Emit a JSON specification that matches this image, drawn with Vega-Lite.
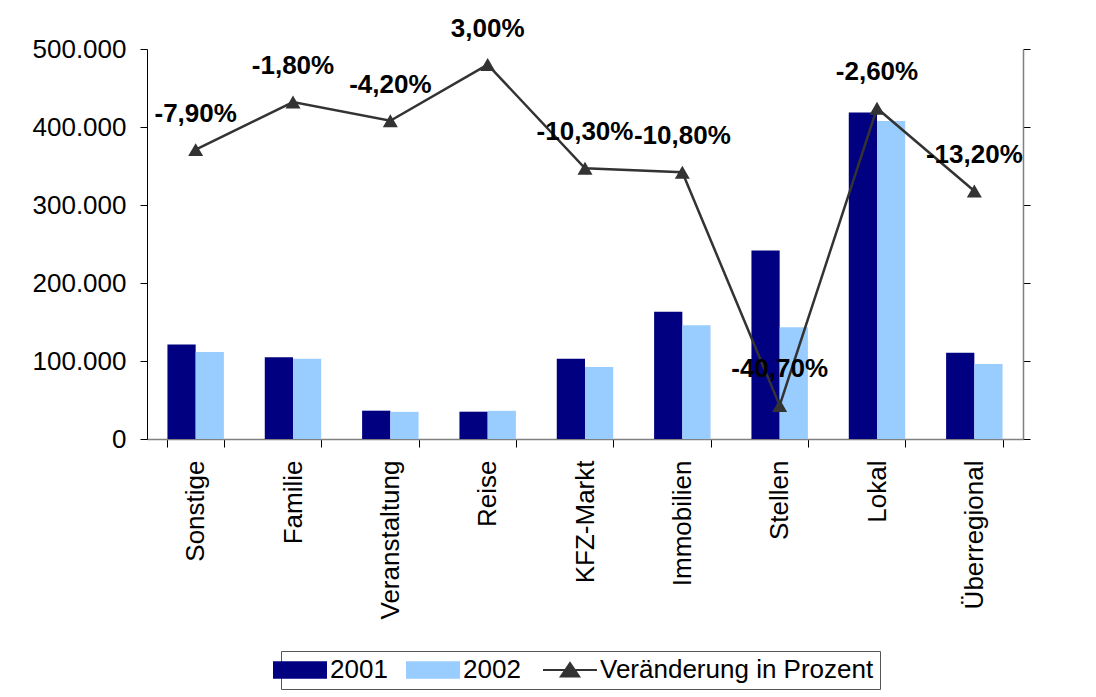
{
  "$schema": "https://vega.github.io/schema/vega-lite/v6.json",
  "autosize": {"type": "none"},
  "padding": {"left": 147, "top": 49, "right": 73, "bottom": 258},
  "width": 876,
  "height": 390,
  "background": "white",
  "config": {
    "font": "Liberation Sans",
    "view": {"stroke": null},
    "locale": {"number": {"decimal": ",", "thousands": ".", "grouping": [3], "currency": ["", " €"], "minus": "-"}}
  },
  "datasets": {
    "bars": [
      {"Kategorie": "Sonstige", "Jahr": "2001", "Wert": 121000},
      {"Kategorie": "Sonstige", "Jahr": "2002", "Wert": 111500},
      {"Kategorie": "Familie", "Jahr": "2001", "Wert": 104700},
      {"Kategorie": "Familie", "Jahr": "2002", "Wert": 102800},
      {"Kategorie": "Veranstaltung", "Jahr": "2001", "Wert": 36300},
      {"Kategorie": "Veranstaltung", "Jahr": "2002", "Wert": 34800},
      {"Kategorie": "Reise", "Jahr": "2001", "Wert": 35000},
      {"Kategorie": "Reise", "Jahr": "2002", "Wert": 36100},
      {"Kategorie": "KFZ-Markt", "Jahr": "2001", "Wert": 103000},
      {"Kategorie": "KFZ-Markt", "Jahr": "2002", "Wert": 92400},
      {"Kategorie": "Immobilien", "Jahr": "2001", "Wert": 163300},
      {"Kategorie": "Immobilien", "Jahr": "2002", "Wert": 145700},
      {"Kategorie": "Stellen", "Jahr": "2001", "Wert": 241600},
      {"Kategorie": "Stellen", "Jahr": "2002", "Wert": 143300},
      {"Kategorie": "Lokal", "Jahr": "2001", "Wert": 418700},
      {"Kategorie": "Lokal", "Jahr": "2002", "Wert": 407800},
      {"Kategorie": "Überregional", "Jahr": "2001", "Wert": 110700},
      {"Kategorie": "Überregional", "Jahr": "2002", "Wert": 96100}
    ],
    "change": [
      {"Kategorie": "Sonstige", "Veraenderung": -0.079},
      {"Kategorie": "Familie", "Veraenderung": -0.018},
      {"Kategorie": "Veranstaltung", "Veraenderung": -0.042},
      {"Kategorie": "Reise", "Veraenderung": 0.03},
      {"Kategorie": "KFZ-Markt", "Veraenderung": -0.103},
      {"Kategorie": "Immobilien", "Veraenderung": -0.108},
      {"Kategorie": "Stellen", "Veraenderung": -0.407},
      {"Kategorie": "Lokal", "Veraenderung": -0.026},
      {"Kategorie": "Überregional", "Veraenderung": -0.132}
    ]
  },
  "layer": [
    {
      "data": {"name": "bars"},
      "mark": {"type": "bar"},
      "encoding": {
        "x": {
          "field": "Kategorie",
          "type": "nominal",
          "scale": {
            "domain": ["Sonstige", "Familie", "Veranstaltung", "Reise", "KFZ-Markt", "Immobilien", "Stellen", "Lokal", "Überregional"],
            "paddingInner": 0.42,
            "paddingOuter": 0.21
          },
          "axis": {
            "title": null,
            "labelAngle": 270,
            "labelAlign": "right",
            "labelBaseline": "middle",
            "labelFontSize": 26,
            "labelColor": "#000000",
            "labelPadding": 13,
            "tickBand": "extent",
            "tickSize": 8,
            "tickColor": "#000000",
            "domainColor": "#808080",
            "domainWidth": 1.5
          }
        },
        "xOffset": {"field": "Jahr", "type": "nominal", "scale": {"paddingInner": 0, "paddingOuter": 0}},
        "y": {
          "field": "Wert",
          "type": "quantitative",
          "scale": {"domain": [0, 500000], "nice": false},
          "axis": {
            "title": null,
            "values": [0, 100000, 200000, 300000, 400000, 500000],
            "format": ",.0f",
            "labelFontSize": 26,
            "labelColor": "#000000",
            "labelPadding": 14,
            "tickSize": 7,
            "tickColor": "#000000",
            "domainColor": "#000000",
            "grid": false
          }
        },
        "color": {
          "field": "Jahr",
          "type": "nominal",
          "scale": {"domain": ["2001", "2002", "Veränderung in Prozent"], "range": ["#000080", "#99CCFF", "#333333"]},
          "legend": {
            "title": null,
            "orient": "none",
            "legendX": 134,
            "legendY": 602,
            "direction": "horizontal",
            "strokeColor": "#555555",
            "padding": 6,
            "labelFontSize": 26,
            "labelFont": "Liberation Sans",
            "labelColor": "#000000",
            "labelLimit": 500,
            "symbolSize": 2916,
            "labelOffset": 17,
            "columnPadding": 18,
            "symbolOpacity": 1,
            "encode": {
              "symbols": {
                "update": {
                  "shape": {"signal": "datum.value === 'Veränderung in Prozent' ? 'M-1,0H1M-0.34,0.24L0,-0.26L0.34,0.24Z' : 'M-1,-0.32H1V0.32H-1Z'"},
                  "stroke": {"value": "#333333"},
                  "strokeWidth": {"signal": "datum.value === 'Veränderung in Prozent' ? 2 : 0"}
                }
              }
            }
          }
        }
      }
    },
    {
      "data": {"name": "change"},
      "encoding": {
        "x": {
          "field": "Kategorie",
          "type": "nominal",
          "scale": {
            "domain": ["Sonstige", "Familie", "Veranstaltung", "Reise", "KFZ-Markt", "Immobilien", "Stellen", "Lokal", "Überregional"]
          }
        },
        "y": {
          "field": "Veraenderung",
          "type": "quantitative",
          "scale": {"domain": [-0.45, 0.05], "nice": false, "zero": false},
          "axis": {
            "orient": "right",
            "title": null,
            "values": [-0.45, -0.35, -0.25, -0.15, -0.05, 0.05],
            "labels": false,
            "tickSize": 7,
            "tickColor": "#000000",
            "domainColor": "#808080",
            "domainWidth": 1.5,
            "grid": false
          }
        }
      },
      "layer": [
        {
          "mark": {
            "type": "line",
            "color": "#333333",
            "strokeWidth": 2.5,
            "point": {"shape": "triangle-up", "size": 225, "filled": true, "color": "#333333", "opacity": 1}
          }
        },
        {
          "mark": {"type": "text", "fontSize": 26, "fontWeight": "bold", "dy": -36, "baseline": "middle", "align": "center", "color": "#000000"},
          "encoding": {
            "text": {"field": "Veraenderung", "type": "quantitative", "format": ".2%"}
          }
        }
      ]
    }
  ],
  "resolve": {"scale": {"y": "independent"}}
}
